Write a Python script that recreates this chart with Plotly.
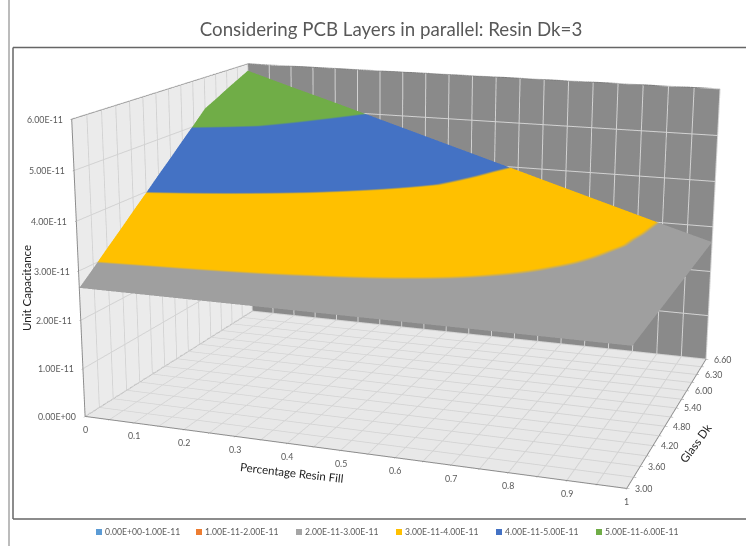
import plotly.graph_objects as go

fill = [0, 0.1, 0.2, 0.3, 0.4, 0.5, 0.6, 0.7, 0.8, 0.9, 1]
glass_dk = [3.0, 3.3, 3.6, 3.9, 4.2, 4.5, 4.8, 5.1, 5.4, 5.7, 6.0, 6.15, 6.3, 6.45, 6.6]
# unit capacitance, in units of 1e-11
cap = [
 [2.66,2.66,2.66,2.66,2.66,2.66,2.66,2.66,2.66,2.66,2.66],
 [2.92,2.89,2.87,2.84,2.81,2.79,2.76,2.74,2.71,2.68,2.66],
 [3.19,3.13,3.08,3.03,2.97,2.92,2.87,2.81,2.76,2.71,2.66],
 [3.45,3.37,3.29,3.21,3.13,3.05,2.97,2.89,2.81,2.73,2.66],
 [3.72,3.61,3.50,3.40,3.29,3.19,3.08,2.97,2.87,2.76,2.66],
 [3.98,3.85,3.72,3.58,3.45,3.32,3.19,3.05,2.92,2.79,2.66],
 [4.25,4.09,3.93,3.77,3.61,3.45,3.29,3.13,2.97,2.81,2.66],
 [4.51,4.33,4.14,3.96,3.77,3.58,3.40,3.21,3.03,2.84,2.66],
 [4.78,4.57,4.35,4.14,3.93,3.72,3.50,3.29,3.08,2.87,2.66],
 [5.04,4.81,4.57,4.33,4.09,3.85,3.61,3.37,3.13,2.89,2.66],
 [5.31,5.04,4.78,4.51,4.25,3.98,3.72,3.45,3.19,2.92,2.66],
 [5.44,5.16,4.89,4.61,4.33,4.05,3.77,3.49,3.21,2.93,2.66],
 [5.58,5.28,4.99,4.70,4.41,4.12,3.82,3.53,3.24,2.95,2.66],
 [5.71,5.40,5.10,4.79,4.49,4.18,3.87,3.57,3.26,2.96,2.66],
 [5.84,5.52,5.21,4.89,4.57,4.25,3.93,3.61,3.29,2.97,2.66],
]
band_labels = ["0.00E+00-1.00E-11","1.00E-11-2.00E-11","2.00E-11-3.00E-11",
               "3.00E-11-4.00E-11","4.00E-11-5.00E-11","5.00E-11-6.00E-11"]
band_colors = ["#5B9BD5","#ED7D31","#A5A5A5","#FFC000","#4472C4","#70AD47"]
surface_colors = ["#5B9BD5","#ED7D31","#9F9F9F","#FFC000","#4472C4","#70AD47"]
z_ticks = [0,1,2,3,4,5,6]
z_text = ["0.00E+00","1.00E-11","2.00E-11","3.00E-11","4.00E-11","5.00E-11","6.00E-11"]
x_ticks = [i*0.05 for i in range(21)]
x_text = ["0","","0.1","","0.2","","0.3","","0.4","","0.5","","0.6","","0.7","","0.8","","0.9","","1"]
y_text = ["3.00","","3.60","","4.20","","4.80","","5.40","","6.00","","6.30","","6.60"]
y_pos = list(range(len(glass_dk)))
x_max, y_max, z_max = fill[-1], y_pos[-1], z_ticks[-1]

# The reference has a long-lens view; plotly's field of view is fixed, so the
# scene is laid out tall and shifted up inside the window.
FIG_H = 1435
OFF = 444
def px(x): return x/746
def py(y): return 1-(y+OFF)/FIG_H

stops=[]
for i,c in enumerate(surface_colors):
    stops+= [[i/6,c],[(i+1)/6,c]]

fig=go.Figure()
fig.add_trace(go.Surface(x=fill,y=y_pos,z=cap,cmin=0,cmax=6,colorscale=stops,showscale=False,
    hoverinfo="skip",lighting=dict(ambient=1,diffuse=0,specular=0,roughness=1,fresnel=0)))
# dark frame along the tops of the walls
fig.add_trace(go.Scatter3d(x=[0,0,x_max],y=[0,y_max,y_max],z=[z_max,z_max,z_max],mode="lines",
    line=dict(color="#7a7a7a",width=2),hoverinfo="skip",showlegend=False))
fig.add_trace(go.Scatter3d(x=[0,0],y=[y_max,0],z=[0,0],mode="lines",
    line=dict(color="#9a9a9a",width=2),hoverinfo="skip",showlegend=False))
def ax(**k):
    return dict(showbackground=True,showspikes=False,gridcolor="#d2d2d2",gridwidth=2,zeroline=False,title=dict(text=""),
        showline=True,linecolor="#8c8c8c",linewidth=2,ticks="outside",ticklen=2,tickcolor="#8c8c8c",showticklabels=False,
        tickmode="array",autorange=False,**k)
tick=dict(family="Lato",size=8.8,color="#595959")
def stext(t,x,y,z,anchor,xs,ys):
    return dict(text=t,x=x,y=y,z=z,showarrow=False,xanchor=anchor,yanchor="middle",xshift=xs,yshift=ys,font=tick)
scene_ann=[stext(t,0,0,v,"right",-7,0) for t,v in zip(z_text,z_ticks)]
scene_ann+=[stext(t,v,0,0,"center",0,-13) for t,v in zip(x_text,x_ticks) if t]
scene_ann+=[stext(t,x_max,v,0,"left",6,0) for t,v in zip(y_text,y_pos) if t]
fig.update_layout(width=746,height=FIG_H,margin=dict(l=0,r=0,t=0,b=0),paper_bgcolor="white",showlegend=False,
    font=dict(family="Lato"),
    title=dict(text="Considering PCB Layers in parallel: Resin Dk=3",x=391/746,xanchor="center",y=py(29),yanchor="middle",font=dict(family="Lato",size=18.7,color="#595959")),
    scene=dict(domain=dict(x=[0,1],y=[0,1]),aspectmode="manual",aspectratio=dict(x=1.5,y=1.108,z=0.821),
        camera=dict(eye=dict(x=1.549,y=-4.473,z=1.179),center=dict(x=-0.099,y=-0.048,z=-0.072),up=dict(x=0,y=0,z=1),projection=dict(type="perspective")),
        xaxis=ax(range=[0,x_max],tickvals=x_ticks,ticktext=x_text,backgroundcolor="#ebebeb"),
        yaxis=ax(range=[0,y_max],tickvals=y_pos,ticktext=y_text,backgroundcolor="#8a8a8a"),
        zaxis=ax(range=[0,z_max],tickvals=z_ticks,ticktext=z_text,backgroundcolor="#e8e8e8"),
        annotations=scene_ann,
    ))
def vline(x,y0,y1,c): return dict(type="line",xref="paper",yref="paper",x0=px(x),x1=px(x),y0=py(y0),y1=py(y1),line=dict(color=c,width=1.5))
def hline(y,x0,x1,c): return dict(type="line",xref="paper",yref="paper",x0=px(x0),x1=px(x1),y0=py(y),y1=py(y),line=dict(color=c,width=1.5))
shapes=[vline(9,0,546,"#a6a6a6"),vline(13,47.5,519,"#666666"),hline(47.5,13,746,"#666666"),hline(519,13,746,"#666666")]
ttl=dict(family="Lato",size=11.5,color="#222222")
def label(t,x,y,a): return dict(text=t,xref="paper",yref="paper",x=px(x),y=py(y),textangle=a,showarrow=False,xanchor="center",yanchor="middle",font=ttl)
anns=[label("Percentage Resin Fill",292,472,6.5),label("Glass Dk",695,443,-54),label("Unit Capacitance",26,288,-90)]
for i,(l,c) in enumerate(zip(band_labels,band_colors)):
    x0=96+i*100
    shapes.append(dict(type="rect",xref="paper",yref="paper",x0=px(x0),x1=px(x0+6),y0=py(529),y1=py(535),fillcolor=c,line=dict(width=0)))
    anns.append(dict(text=l,xref="paper",yref="paper",x=px(x0+7),y=py(532),xanchor="left",yanchor="middle",showarrow=False,font=dict(family="Lato",size=8.6,color="#595959")))
fig.update_layout(shapes=shapes,annotations=anns)
post=("document.documentElement.style.overflow='hidden';document.body.style.overflow='hidden';"
      "document.body.style.margin='0';document.body.style.height='546px';"
      "var d=document.querySelector('.plotly-graph-div');d.style.position='absolute';d.style.left='0';d.style.top='-%dpx';"%OFF)
fig.write_html("out.html",config=dict(displayModeBar=False),post_script=post)
